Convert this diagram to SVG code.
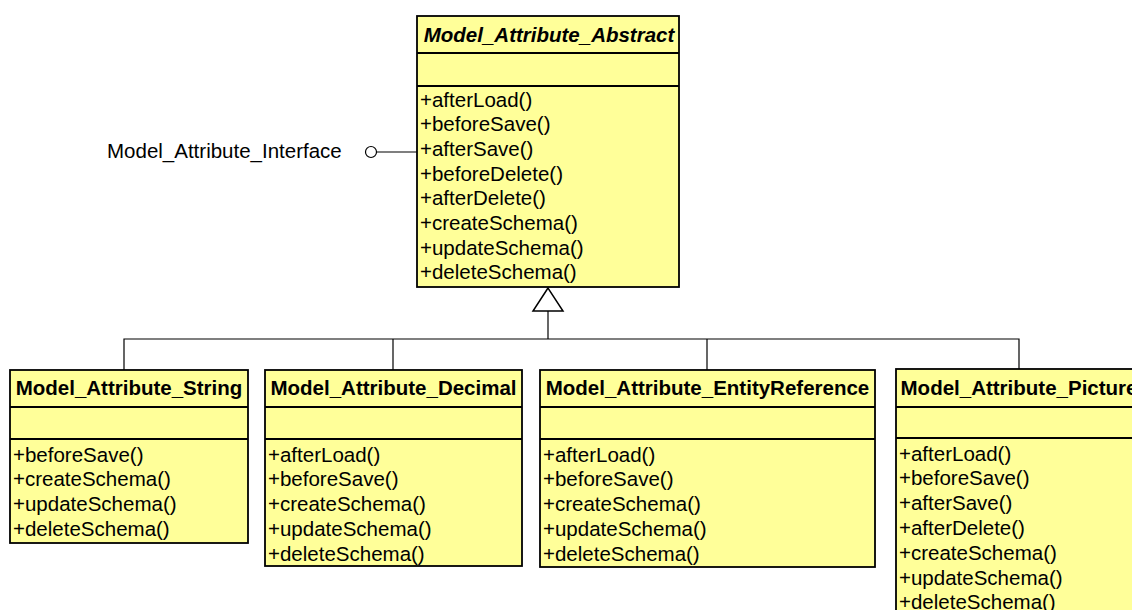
<svg xmlns="http://www.w3.org/2000/svg" width="1132" height="610" viewBox="0 0 1132 610">
<style>
.box{fill:#FFFF99;stroke:#000;stroke-width:1.8}
.sep{stroke:#000;stroke-width:1.8}
.t{font-family:"Liberation Sans",Arial,sans-serif;font-size:20.5px;font-weight:bold;text-anchor:middle;fill:#000}
.ti{font-style:italic}
.m{font-family:"Liberation Sans",Arial,sans-serif;font-size:20.5px;fill:#000}
.c{fill:none;stroke:#000;stroke-width:1.2}
</style>
<rect width="1132" height="610" fill="#fff"/>
<g id="connectors">
<polyline class="c" points="124,371 124,339 1019,339 1019,369"/>
<line class="c" x1="393" y1="339" x2="393" y2="370"/>
<line class="c" x1="707" y1="339" x2="707" y2="370"/>
<line class="c" x1="548" y1="311" x2="548" y2="339"/>
<polygon points="548,288 533,311 563,311" fill="#fff" stroke="#000" stroke-width="1.5"/>
<line class="c" x1="377" y1="152" x2="417" y2="152"/>
<circle cx="371" cy="152" r="5.5" fill="#fff" stroke="#000" stroke-width="1.2"/>
</g>
<g id="interface">
<text class="m" x="107" y="158">Model_Attribute_Interface</text>
</g>
<g id="abstract">
<rect class="box" x="417" y="16" width="262" height="271"/>
<line class="sep" x1="417" y1="53" x2="679" y2="53"/>
<line class="sep" x1="417" y1="86" x2="679" y2="86"/>
<text class="t ti" x="549" y="42">Model_Attribute_Abstract</text>
<text class="m" x="420" y="106.5">+afterLoad()</text>
<text class="m" x="420" y="131.2">+beforeSave()</text>
<text class="m" x="420" y="155.9">+afterSave()</text>
<text class="m" x="420" y="180.6">+beforeDelete()</text>
<text class="m" x="420" y="205.3">+afterDelete()</text>
<text class="m" x="420" y="230">+createSchema()</text>
<text class="m" x="420" y="254.7">+updateSchema()</text>
<text class="m" x="420" y="279.4">+deleteSchema()</text>
</g>
<g id="string">
<rect class="box" x="10" y="370" width="238" height="173"/>
<line class="sep" x1="10" y1="407" x2="248" y2="407"/>
<line class="sep" x1="10" y1="439" x2="248" y2="439"/>
<text class="t" x="129" y="395">Model_Attribute_String</text>
<text class="m" x="13" y="461.5">+beforeSave()</text>
<text class="m" x="13" y="486.3">+createSchema()</text>
<text class="m" x="13" y="511.1">+updateSchema()</text>
<text class="m" x="13" y="535.9">+deleteSchema()</text>
</g>
<g id="decimal">
<rect class="box" x="265" y="370" width="257" height="196"/>
<line class="sep" x1="265" y1="407" x2="522" y2="407"/>
<line class="sep" x1="265" y1="439" x2="522" y2="439"/>
<text class="t" x="393.5" y="395">Model_Attribute_Decimal</text>
<text class="m" x="268" y="461.5">+afterLoad()</text>
<text class="m" x="268" y="486.3">+beforeSave()</text>
<text class="m" x="268" y="511.1">+createSchema()</text>
<text class="m" x="268" y="535.9">+updateSchema()</text>
<text class="m" x="268" y="560.7">+deleteSchema()</text>
</g>
<g id="entityreference">
<rect class="box" x="540" y="370" width="335" height="197"/>
<line class="sep" x1="540" y1="407" x2="875" y2="407"/>
<line class="sep" x1="540" y1="439" x2="875" y2="439"/>
<text class="t" x="707.5" y="395">Model_Attribute_EntityReference</text>
<text class="m" x="543" y="461.5">+afterLoad()</text>
<text class="m" x="543" y="486.3">+beforeSave()</text>
<text class="m" x="543" y="511.1">+createSchema()</text>
<text class="m" x="543" y="535.9">+updateSchema()</text>
<text class="m" x="543" y="560.7">+deleteSchema()</text>
</g>
<g id="picture">
<rect class="box" x="896" y="369" width="246" height="260"/>
<line class="sep" x1="896" y1="407" x2="1142" y2="407"/>
<line class="sep" x1="896" y1="438" x2="1142" y2="438"/>
<text class="t" x="1019" y="395">Model_Attribute_Picture</text>
<text class="m" x="899" y="460.5">+afterLoad()</text>
<text class="m" x="899" y="485.3">+beforeSave()</text>
<text class="m" x="899" y="510.1">+afterSave()</text>
<text class="m" x="899" y="534.9">+afterDelete()</text>
<text class="m" x="899" y="559.7">+createSchema()</text>
<text class="m" x="899" y="584.5">+updateSchema()</text>
<text class="m" x="899" y="609.3">+deleteSchema()</text>
</g>
</svg>
